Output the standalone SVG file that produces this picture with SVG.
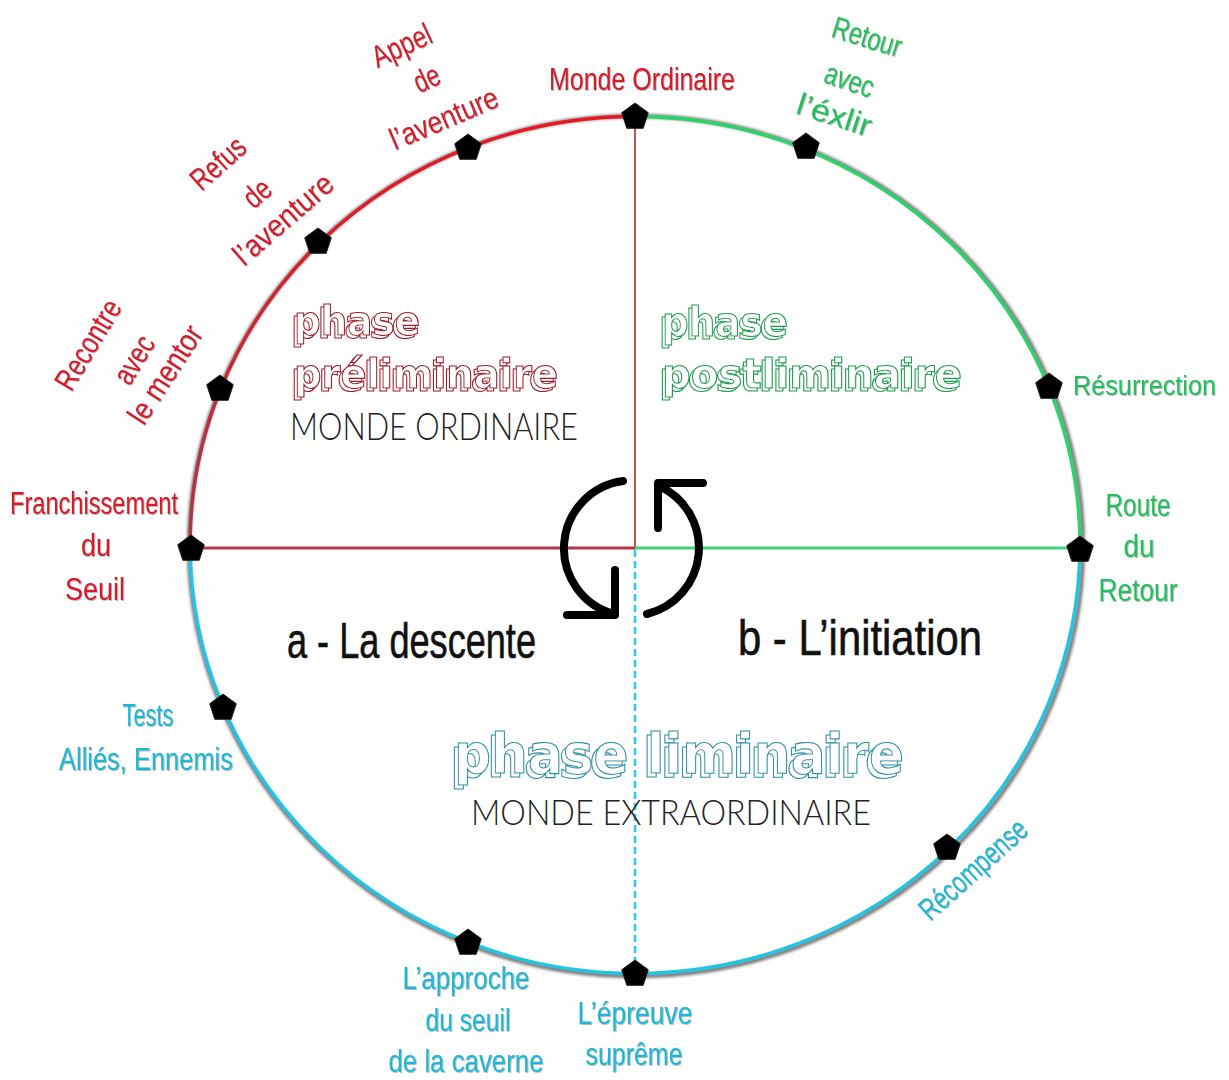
<svg xmlns="http://www.w3.org/2000/svg" xmlns:xlink="http://www.w3.org/1999/xlink" width="1229" height="1080" viewBox="0 0 1229 1080">
<style>
.lbl{font-family:"Liberation Sans Narrow","Liberation Sans",sans-serif;font-size:31px;text-anchor:middle}
.red{fill:#d21c2c}
.grn{fill:#22bf5c}
.cyn{fill:#1fb6d6}
.big{font-family:"Liberation Sans Narrow","Liberation Sans",sans-serif;font-size:50px;fill:#111;stroke:#111;stroke-width:0.6;text-anchor:start}
.ph{font-family:"DejaVu Sans",sans-serif;font-weight:bold;fill:#fff;stroke-width:1.1;text-anchor:start}
.mon{font-family:"Lato","Inter",sans-serif;font-weight:300;fill:#222;text-anchor:start}
.pin{fill:#000;stroke:#222;stroke-width:1}
</style>
<defs>
<linearGradient id="gRed" gradientUnits="userSpaceOnUse" x1="635" y1="116" x2="190" y2="545">
<stop offset="0" stop-color="#ee1420"/>
<stop offset="0.55" stop-color="#d8202c"/>
<stop offset="1" stop-color="#a8384a"/>
</linearGradient>
<filter id="blur" x="-10%" y="-10%" width="120%" height="120%"><feGaussianBlur stdDeviation="1.6"/></filter>
<filter id="sh" x="-4%" y="-8%" width="108%" height="116%"><feDropShadow dx="0.8" dy="0.8" stdDeviation="0.6" flood-color="#000" flood-opacity="0.35"/></filter>
<filter id="ext3d" x="-5%" y="-15%" width="110%" height="135%">
<feOffset in="SourceGraphic" dx="-3" dy="3" result="o"/>
<feMerge><feMergeNode in="o"/><feMergeNode in="SourceGraphic"/></feMerge>
</filter>
<filter id="ext3dL" x="-5%" y="-15%" width="110%" height="135%">
<feOffset in="SourceGraphic" dx="-4" dy="4" result="o"/>
<feMerge><feMergeNode in="o"/><feMergeNode in="SourceGraphic"/></feMerge>
</filter>
<polygon id="pent" points="0,-14 13.3,-4.3 8.2,11.3 -8.2,11.3 -13.3,-4.3"/>
</defs>

<rect x="0" y="0" width="1229" height="1080" fill="#fff"/>

<g id="ring">
<ellipse cx="636" cy="546" rx="447" ry="430" fill="none" stroke="#333" stroke-width="4" filter="url(#blur)" opacity="0.7"/>
<path d="M 190 545 A 445 428.5 0 0 1 635 116.5" fill="none" stroke="url(#gRed)" stroke-width="3.5"/>
<path d="M 635 116.5 A 445 428.5 0 0 1 1080 545" fill="none" stroke="#2bd46a" stroke-width="3.5"/>
<path d="M 1080 545 A 445 428.5 0 0 1 190 545" fill="none" stroke="#22c4e4" stroke-width="3.5"/>
</g>

<g id="connectors">
<line x1="635" y1="116" x2="635" y2="548" stroke="#b65a4a" stroke-width="2"/>
<line x1="191" y1="548" x2="635" y2="548" stroke="#b53848" stroke-width="3"/>
<line x1="635" y1="548" x2="1080" y2="548" stroke="#3fd27a" stroke-width="3"/>
<line x1="635" y1="550" x2="635" y2="973" stroke="#22ccf0" stroke-width="2.5" stroke-dasharray="7 4"/>
</g>

<g id="cycle-icon" fill="none" stroke="#000" stroke-width="8" stroke-linecap="round" stroke-linejoin="round">
<path d="M 623 481 A 68 68 0 0 0 614 614"/>
<path d="M 567 615 L 615 615 L 615 570"/>
<path d="M 659 486 A 68 68 0 0 1 647 614"/>
<path d="M 703 483 L 658 483 L 658 528"/>
</g>

<g id="pins" class="pin">
<use xlink:href="#pent" x="635" y="117"/>
<use xlink:href="#pent" x="468" y="148"/>
<use xlink:href="#pent" x="318" y="242"/>
<use xlink:href="#pent" x="220" y="389"/>
<use xlink:href="#pent" x="191" y="549"/>
<use xlink:href="#pent" x="223" y="708"/>
<use xlink:href="#pent" x="468" y="943"/>
<use xlink:href="#pent" x="635" y="974"/>
<use xlink:href="#pent" x="947" y="848"/>
<use xlink:href="#pent" x="1080" y="550"/>
<use xlink:href="#pent" x="1049" y="387"/>
<use xlink:href="#pent" x="806" y="147"/>
</g>

<g id="n-monde-ordinaire" filter="url(#sh)">
<text class="lbl red" x="642" y="90" textLength="186" lengthAdjust="spacingAndGlyphs">Monde Ordinaire</text>
</g>
<g id="n-appel" filter="url(#sh)">
<text class="lbl red" x="406" y="55" transform="rotate(-25 406 55)" textLength="63" lengthAdjust="spacingAndGlyphs">Appel</text>
<text class="lbl red" x="431" y="88" transform="rotate(-25 431 88)" textLength="26" lengthAdjust="spacingAndGlyphs">de</text>
<text class="lbl red" x="448" y="128" transform="rotate(-23 448 128)" textLength="115" lengthAdjust="spacingAndGlyphs">l’aventure</text>
</g>
<g id="n-refus" filter="url(#sh)">
<text class="lbl red" x="225" y="171" transform="rotate(-42 225 171)" textLength="63" lengthAdjust="spacingAndGlyphs">Refus</text>
<text class="lbl red" x="264" y="201" transform="rotate(-41 264 201)" textLength="27" lengthAdjust="spacingAndGlyphs">de</text>
<text class="lbl red" x="290" y="227" transform="rotate(-41 290 227)" textLength="122" lengthAdjust="spacingAndGlyphs">l’aventure</text>
</g>
<g id="n-mentor" filter="url(#sh)">
<text class="lbl red" x="97" y="350" transform="rotate(-59 97 350)" textLength="100" lengthAdjust="spacingAndGlyphs">Recontre</text>
<text class="lbl red" x="143" y="365" transform="rotate(-59 143 365)" textLength="51" lengthAdjust="spacingAndGlyphs">avec</text>
<text class="lbl red" x="174" y="380" transform="rotate(-57 174 380)" textLength="111" lengthAdjust="spacingAndGlyphs">le mentor</text>
</g>
<g id="n-franchissement" filter="url(#sh)">
<text class="lbl red" x="94" y="514" textLength="168" lengthAdjust="spacingAndGlyphs">Franchissement</text>
<text class="lbl red" x="96" y="556" textLength="30" lengthAdjust="spacingAndGlyphs">du</text>
<text class="lbl red" x="95" y="600" textLength="60" lengthAdjust="spacingAndGlyphs">Seuil</text>
</g>

<g id="n-tests" filter="url(#sh)">
<text class="lbl cyn" x="148" y="726" textLength="51" lengthAdjust="spacingAndGlyphs">Tests</text>
<text class="lbl cyn" x="146" y="770" textLength="174" lengthAdjust="spacingAndGlyphs">Alliés, Ennemis</text>
</g>
<g id="n-approche" filter="url(#sh)">
<text class="lbl cyn" x="466" y="989" textLength="127" lengthAdjust="spacingAndGlyphs">L’approche</text>
<text class="lbl cyn" x="468" y="1031" textLength="85" lengthAdjust="spacingAndGlyphs">du seuil</text>
<text class="lbl cyn" x="466" y="1072" textLength="155" lengthAdjust="spacingAndGlyphs">de la caverne</text>
</g>
<g id="n-epreuve" filter="url(#sh)">
<text class="lbl cyn" x="635" y="1024" textLength="115" lengthAdjust="spacingAndGlyphs">L’épreuve</text>
<text class="lbl cyn" x="634" y="1065" textLength="97" lengthAdjust="spacingAndGlyphs">suprême</text>
</g>
<g id="n-recompense" filter="url(#sh)">
<text class="lbl cyn" x="980" y="877" transform="rotate(-42 980 877)" textLength="134" lengthAdjust="spacingAndGlyphs">Récompense</text>
</g>

<g id="n-route" filter="url(#sh)">
<text class="lbl grn" x="1138" y="516" textLength="65" lengthAdjust="spacingAndGlyphs">Route</text>
<text class="lbl grn" x="1139" y="557" textLength="31" lengthAdjust="spacingAndGlyphs">du</text>
<text class="lbl grn" x="1138" y="601" textLength="79" lengthAdjust="spacingAndGlyphs">Retour</text>
</g>
<g id="n-resurrection" filter="url(#sh)">
<text class="lbl grn" x="1073" y="395" style="text-anchor:start;font-size:27px" textLength="143" lengthAdjust="spacingAndGlyphs">Résurrection</text>
</g>
<g id="n-retour-elixir" filter="url(#sh)">
<text class="lbl grn" x="864" y="47" transform="rotate(17 864 47)" textLength="71" lengthAdjust="spacingAndGlyphs">Retour</text>
<text class="lbl grn" x="846" y="90" transform="rotate(19 846 90)" textLength="50" lengthAdjust="spacingAndGlyphs">avec</text>
<text class="lbl grn" x="831" y="125" transform="rotate(18 831 125)" textLength="77" lengthAdjust="spacingAndGlyphs">l’éxlir</text>
</g>

<g id="phase-preliminaire">
<g stroke="#a01a2a" filter="url(#ext3d)">
<text class="ph" x="294" y="335" font-size="40" textLength="126" lengthAdjust="spacingAndGlyphs">phase</text>
<text class="ph" x="294" y="388" font-size="40" textLength="264" lengthAdjust="spacingAndGlyphs">préliminaire</text>
</g>
<text class="mon" x="290" y="440" font-size="38" textLength="288" lengthAdjust="spacingAndGlyphs">MONDE ORDINAIRE</text>
</g>

<g id="phase-postliminaire" stroke="#1e9e50" filter="url(#ext3d)">
<text class="ph" x="662" y="336" font-size="40" textLength="126" lengthAdjust="spacingAndGlyphs">phase</text>
<text class="ph" x="662" y="388" font-size="40" textLength="300" lengthAdjust="spacingAndGlyphs">postliminaire</text>
</g>

<g id="phase-liminaire">
<g stroke="#2a8ea6" filter="url(#ext3dL)">
<text class="ph" x="454" y="773" font-size="56" textLength="450" lengthAdjust="spacingAndGlyphs">phase liminaire</text>
</g>
<text class="mon" x="471" y="825" font-size="36" textLength="400" lengthAdjust="spacingAndGlyphs">MONDE EXTRAORDINAIRE</text>
</g>

<g id="descente">
<text class="big" x="287" y="658" textLength="249" lengthAdjust="spacingAndGlyphs">a - La descente</text>
</g>
<g id="initiation">
<text class="big" x="738" y="655" textLength="244" lengthAdjust="spacingAndGlyphs">b - L’initiation</text>
</g>
</svg>
